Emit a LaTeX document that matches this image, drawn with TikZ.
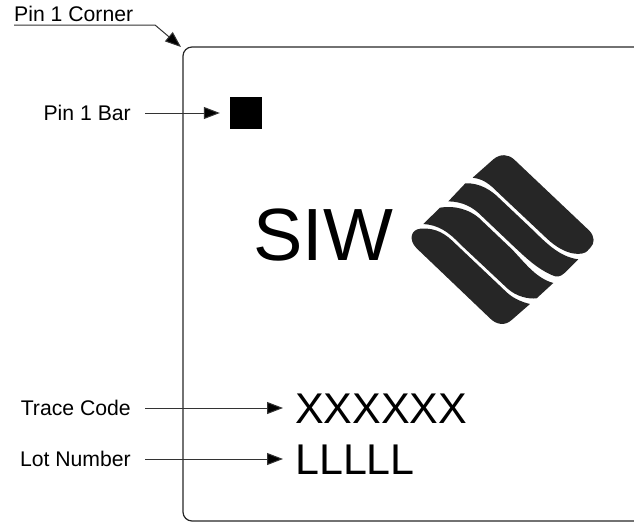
\documentclass[tikz,border=0pt]{standalone}
\usepackage{fontspec}
\setmainfont{Liberation Sans}
\usetikzlibrary{arrows.meta}
\tikzset{
	callout/.style={anchor=east, font=\fontsize{21.2}{21.2}\selectfont, inner xsep=14pt, inner ysep=0pt},
	pointer/.style={draw=black!80, line width=1pt, -{Triangle[length=16pt,width=12pt,fill=black]}},
	marking/.style={anchor=west, font=\fontsize{43}{43}\selectfont, inner xsep=12pt, inner ysep=0pt},
	logoband/.style={fill=black!85, draw=none}
}
\begin{document}
\begin{tikzpicture}[x=1pt,y=-1pt]
	\useasboundingbox (0,0) rectangle (634,522);
	% package outline, open on the right
	\draw[line width=1.2pt, black!85, rounded corners=9pt] (634,47) -- (183,47) -- (183,521) -- (634,521);
	% bar and corner
	\node[fill=black, minimum size=32pt, inner sep=0pt] (pinbar) at (246,113) {};
	\node[callout] (barlabel) at (145,113) {Pin 1 Bar};
	\draw[pointer, shorten >=10pt] (barlabel) -- (pinbar);
	\node[anchor=south west, font=\fontsize{21.2}{21.2}\selectfont, inner sep=0pt, inner ysep=3pt] (cornerlabel) at (14,25) {Pin 1 Corner};
	\coordinate (elbow) at (155,25);
	\coordinate (corner) at (181,47);
	\draw[pointer] (cornerlabel.south west) -- (elbow) -- (corner);
	% codes
	\foreach \name/\txt/\val/\y in {trace/Trace Code/XXXXXX/408, lot/Lot Number/LLLLL/459}{
		\node[callout] (\name label) at (145,\y) {\txt};
		\node[marking] (\name mark) at (283,\y+1) {\val};
		\draw[pointer] (\name label) -- (\name mark.west |- \name label);
	}
	\node[font=\fontsize{74}{74}\selectfont, inner sep=0pt] (siw) at (323,235) {SIW};
	% logo, four bands
	\begin{scope}[shift={(380,140)}, x=0.3333pt, y=-0.3333pt]
		\fill[logoband] (278,113) -- (340,58) .. controls (362,40) and (385,43) .. (402,58) -- (628,272) .. controls (645,290) and (644,310) .. (632,322) -- (622,333) .. controls (610,346) and (560,352) .. (500,295) -- (363,166) .. controls (340,145) and (320,118) .. (278,113) -- cycle;
		\fill[logoband] (256,130) .. controls (300,128) and (335,152) .. (357,174) -- (447,259) .. controls (495,305) and (535,350) .. (595,358) -- (555,398) .. controls (540,412) and (530,412) .. (515,405) .. controls (470,385) and (440,355) .. (403,321) -- (303,226) .. controls (280,203) and (250,185) .. (205,184) -- cycle;
		\fill[logoband] (180,203) .. controls (225,195) and (270,210) .. (297,234) -- (397,329) .. controls (440,375) and (470,415) .. (520,429) -- (470,475) .. controls (445,478) and (408,469) .. (383,446) -- (240,312) .. controls (205,275) and (175,255) .. (130,252) -- cycle;
		\fill[logoband] (122,266) .. controls (170,262) and (200,285) .. (225,310) -- (377,454) .. controls (395,472) and (420,485) .. (450,492) -- (395,540) .. controls (375,558) and (350,555) .. (330,535) -- (110,325) .. controls (85,300) and (92,268) .. (122,266) -- cycle;
	\end{scope}
\end{tikzpicture}
\end{document}
